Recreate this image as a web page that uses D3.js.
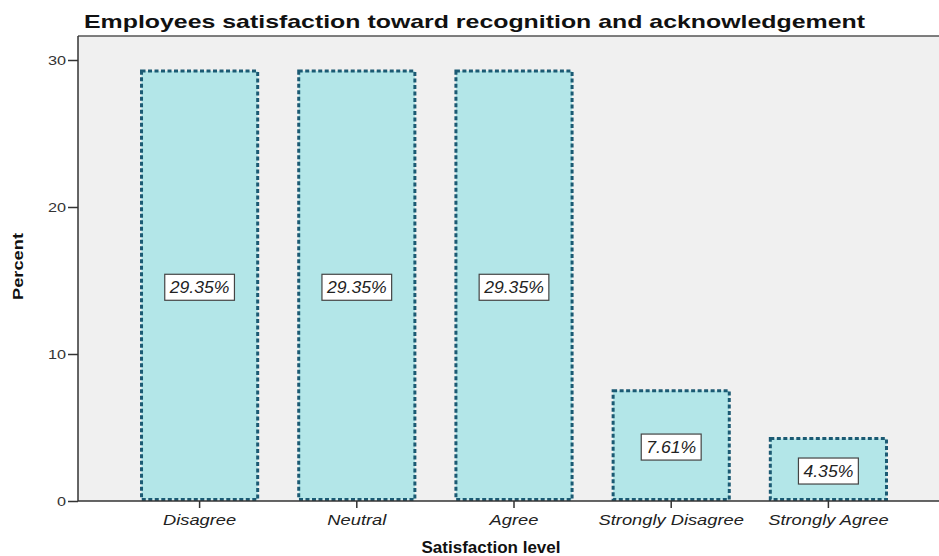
<!DOCTYPE html>
<html>
<head>
<meta charset="utf-8">
<script src="https://cdn.jsdelivr.net/npm/d3@7"></script>
<style>
  body { margin: 0; background: #fff; }
  text { font-family: Arial, "Liberation Sans", sans-serif; }
</style>
</head>
<body>
<div id="chart"></div>
<script>
var categories = ["Disagree", "Neutral", "Agree", "Strongly Disagree", "Strongly Agree"];
var percents = [29.35, 29.35, 29.35, 7.61, 4.35];
var yTicks = [0, 10, 20, 30];

var width = 939, height = 556;
var plotLeft = 78, plotTop = 36, plotBottom = 501, plotRight = 939;

// the original renders text a bit wider than Arial; stretch glyphs to match
function widen(sel, k) {
  sel.each(function() {
    var len = this.getComputedTextLength();
    d3.select(this).attr("textLength", len * k)
      .attr("lengthAdjust", "spacingAndGlyphs");
  });
}

var svg = d3.select("#chart").append("svg")
    .attr("width", width).attr("height", height);

var x = d3.scaleBand()
    .domain(categories)
    .range([121, 907])
    .paddingInner(0.242)
    .paddingOuter(0.121);

var y = d3.scaleLinear()
    .domain([0, 30])
    .range([plotBottom, plotBottom - 441]);

// plot background
svg.append("rect")
    .attr("x", plotLeft).attr("y", plotTop)
    .attr("width", plotRight - plotLeft).attr("height", plotBottom - plotTop)
    .attr("fill", "#f0f0f0");

// frame top
svg.append("line")
    .attr("x1", plotLeft).attr("x2", plotRight)
    .attr("y1", plotTop).attr("y2", plotTop)
    .attr("stroke", "#555").attr("stroke-width", 1.5);

// bars
var bar = svg.append("g").selectAll("g")
    .data(categories)
    .enter().append("g");

bar.append("rect")
    .attr("x", function(d) { return x(d) + 1.5; })
    .attr("y", function(d, i) { return y(percents[i]) + 1.5; })
    .attr("width", x.bandwidth() - 3)
    .attr("height", function(d, i) { return y(0) - y(percents[i]) - 3; })
    .attr("fill", "#b3e6e8")
    .attr("stroke", "#1b5a73")
    .attr("stroke-width", 3)
    .attr("stroke-dasharray", "4,2.5");

// value labels
bar.each(function(d, i) {
  var gg = d3.select(this);
  var cx = x(d) + x.bandwidth() / 2;
  var cy = (y(percents[i]) + y(0)) / 2 + 2;
  var t = gg.append("text")
      .attr("x", cx).attr("y", cy + 6)
      .attr("text-anchor", "middle")
      .style("font-size", "16px")
      .style("font-style", "italic")
      .attr("fill", "#222")
      .text(percents[i].toFixed(2) + "%");
  widen(t, 1.1);
  var tw = +t.attr("textLength");
  gg.insert("rect", "text")
      .attr("x", cx - tw / 2 - 5).attr("y", cy - 13)
      .attr("width", tw + 10).attr("height", 26)
      .attr("fill", "#fff")
      .attr("stroke", "#444").attr("stroke-width", 1.2);
});

// y axis
var yAxis = svg.append("g")
    .attr("transform", "translate(" + plotLeft + ",0)")
    .call(d3.axisLeft(y).tickValues(yTicks).tickSize(10).tickPadding(2));
yAxis.select(".domain").attr("stroke", "#333").attr("stroke-width", 1.5)
    .attr("d", "M0," + plotTop + "V" + plotBottom);
yAxis.selectAll(".tick line").attr("stroke", "#333").attr("stroke-width", 1.5);
yAxis.selectAll(".tick text").style("font-size", "12.5px").attr("fill", "#333")
    .style("font-family", "Arial, 'Liberation Sans', sans-serif")
    .call(widen, 1.3);

// x axis
var xAxis = svg.append("g")
    .attr("transform", "translate(0," + plotBottom + ")")
    .call(d3.axisBottom(x).tickSize(7).tickPadding(6));
xAxis.select(".domain").attr("stroke", "#333").attr("stroke-width", 1.5)
    .attr("d", "M" + plotLeft + ",0H" + plotRight);
xAxis.selectAll(".tick line").attr("stroke", "#333").attr("stroke-width", 1.5);
xAxis.selectAll(".tick text").style("font-size", "15.5px").style("font-style", "italic")
    .attr("fill", "#222")
    .style("font-family", "Arial, 'Liberation Sans', sans-serif")
    .call(widen, 1.18);

// titles
var title = svg.append("text")
    .attr("x", 84).attr("y", 28)
    .style("font-size", "19px").style("font-weight", "bold")
    .attr("fill", "#111")
    .text("Employees satisfaction toward recognition and acknowledgement");
title.attr("textLength", 781).attr("lengthAdjust", "spacingAndGlyphs");

var yTitle = svg.append("text")
    .attr("transform", "translate(23,266.5) rotate(-90)")
    .attr("text-anchor", "middle")
    .style("font-size", "14px").style("font-weight", "bold")
    .attr("fill", "#111")
    .text("Percent");
yTitle.attr("textLength", 67).attr("lengthAdjust", "spacingAndGlyphs");

var xTitle = svg.append("text")
    .attr("x", 491).attr("y", 553)
    .attr("text-anchor", "middle")
    .style("font-size", "16.5px").style("font-weight", "bold")
    .attr("fill", "#111")
    .text("Satisfaction level");
xTitle.attr("textLength", 139).attr("lengthAdjust", "spacingAndGlyphs");
</script>
</body>
</html>
